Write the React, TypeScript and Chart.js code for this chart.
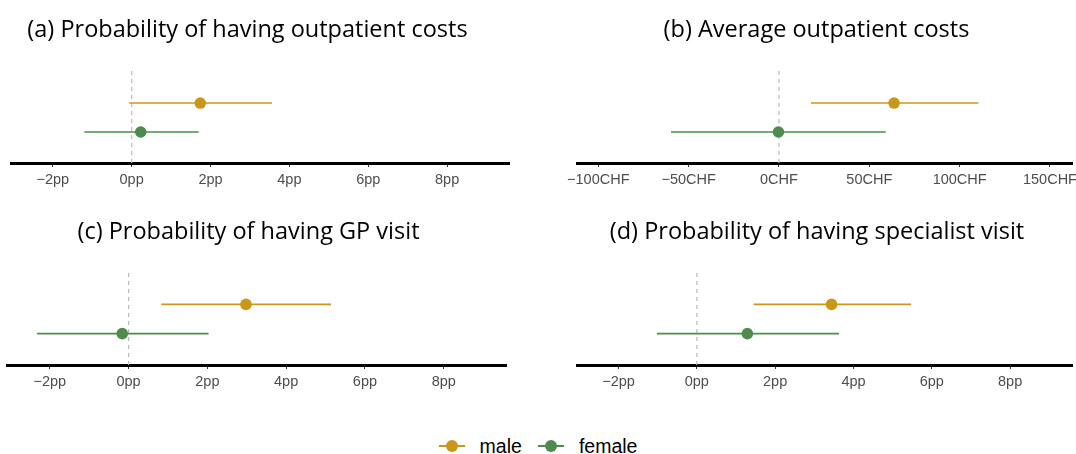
import React, { useEffect, useRef } from "react";
import { Chart, registerables } from "chart.js";

Chart.register(...registerables);

// ---- data ----
const groups = ["male", "female"];
const groupRows = [2, 1];
const groupColors = ["#C9971C", "#4F8A4E"];

const pctTicks = [-2, 0, 2, 4, 6, 8];
const chfTicks = [-100, -50, 0, 50, 100, 150];

const titleA = "(a) Probability of having outpatient costs";
const estA = [1.74, 0.23];
const lowA = [-0.06, -1.2];
const highA = [3.56, 1.7];

const titleB = "(b) Average outpatient costs";
const estB = [63.7, -0.3];
const lowB = [17.7, -59.8];
const highB = [110.4, 59.1];

const titleC = "(c) Probability of having GP visit";
const estC = [2.98, -0.16];
const lowC = [0.83, -2.32];
const highC = [5.14, 2.03];

const titleD = "(d) Probability of having specialist visit";
const estD = [3.44, 1.29];
const lowD = [1.45, -1.02];
const highD = [5.47, 3.63];

const Y_MIN = -0.07;
const Y_MAX = 3.14;

type PanelSpec = {
  title: string;
  est: number[];
  low: number[];
  high: number[];
  ticks: number[];
  unit: string;
  xMin: number;
  xMax: number;
  left: number;
  top: number;
  width: number;
  height: number;
  pad: { left: number; right: number; top: number; bottom: number };
  titleX: number;
  titleY: number;
};

const fmt = (v: number, unit: string) =>
  (v < 0 ? "\u2212" + Math.abs(v) : String(v)) + unit;

function Panel({ spec }: { spec: PanelSpec }) {
  const ref = useRef<HTMLCanvasElement | null>(null);
  useEffect(() => {
    if (!ref.current) return;
    const datasets: any[] = [
      {
        type: "line",
        data: [
          { x: 0, y: Y_MIN },
          { x: 0, y: Y_MAX },
        ],
        borderColor: "#bababa",
        borderDash: [4, 4],
        borderWidth: 1.2,
        pointRadius: 0,
        order: 3,
      },
    ];
    groups.forEach((g, i) => {
      datasets.push({
        type: "line",
        label: g + " CI",
        data: [
          { x: spec.low[i], y: groupRows[i] },
          { x: spec.high[i], y: groupRows[i] },
        ],
        borderColor: groupColors[i],
        borderWidth: 1.6,
        pointRadius: 0,
        order: 2,
      });
      datasets.push({
        type: "scatter",
        label: g,
        data: [{ x: spec.est[i], y: groupRows[i] }],
        backgroundColor: groupColors[i],
        borderWidth: 0,
        pointRadius: 5.8,
        order: 1,
      });
    });
    const chart = new Chart(ref.current, {
      type: "scatter",
      data: { datasets },
      options: {
        animation: false,
        responsive: false,
        devicePixelRatio: 1,
        layout: { padding: spec.pad },
        plugins: {
          legend: { display: false },
          tooltip: { enabled: false },
          title: { display: false },
        },
        scales: {
          x: {
            type: "linear",
            min: spec.xMin,
            max: spec.xMax,
            afterBuildTicks: (s: any) => {
              s.ticks = spec.ticks.map((v) => ({ value: v }));
            },
            ticks: {
              callback: (v: any) => fmt(Number(v), spec.unit),
              color: "#4d4d4d",
              font: { family: "'Liberation Sans', Arial, sans-serif", size: 14.5 },
              padding: 4,
              maxRotation: 0,
              autoSkip: false,
            },
            grid: {
              display: true,
              drawOnChartArea: false,
              drawTicks: true,
              tickLength: 4,
              color: "#333333",
              lineWidth: 1,
            },
            border: { display: true, color: "#000000", width: 3 },
          },
          y: {
            type: "linear",
            display: false,
            min: Y_MIN,
            max: Y_MAX,
          },
        },
      } as any,
    });
    return () => chart.destroy();
  }, [spec]);
  return (
    <>
      <canvas
        ref={ref}
        width={spec.width}
        height={spec.height}
        style={{
          position: "absolute",
          left: spec.left,
          top: spec.top,
          width: spec.width,
          height: spec.height,
        }}
      />
      <div
        style={{
          position: "absolute",
          left: spec.titleX,
          top: spec.titleY,
          transform: "translate(-50%, -50%)",
          whiteSpace: "nowrap",
          fontFamily: "'Open Sans', 'Noto Sans', sans-serif",
          fontSize: 23.5,
          lineHeight: "1",
          color: "#000",
        }}
      >
        {spec.title}
      </div>
    </>
  );
}

const panels: PanelSpec[] = [
  {
    title: titleA, est: estA, low: lowA, high: highA, ticks: pctTicks, unit: "pp",
    xMin: -3.06, xMax: 9.57,
    left: 0, top: 0, width: 538, height: 200,
    pad: { left: 11, right: 29, top: 70, bottom: 7.6 },
    titleX: 247.5, titleY: 28.5,
  },
  {
    title: titleB, est: estB, low: lowB, high: highB, ticks: chfTicks, unit: "CHF",
    xMin: -111.8, xMax: 162.2,
    left: 538, top: 0, width: 580, height: 200,
    pad: { left: 39, right: 46, top: 70, bottom: 7.6 },
    titleX: 816.5, titleY: 28.5,
  },
  {
    title: titleC, est: estC, low: lowC, high: highC, ticks: pctTicks, unit: "pp",
    xMin: -3.07, xMax: 9.58,
    left: 0, top: 200, width: 538, height: 200,
    pad: { left: 7.6, right: 32, top: 71, bottom: 5.6 },
    titleX: 248.5, titleY: 230.5,
  },
  {
    title: titleD, est: estD, low: lowD, high: highD, ticks: pctTicks, unit: "pp",
    xMin: -3.06, xMax: 9.58,
    left: 538, top: 200, width: 580, height: 200,
    pad: { left: 39, right: 46, top: 71, bottom: 5.6 },
    titleX: 817, titleY: 230.5,
  },
];

function LegendMarker({ color }: { color: string }) {
  return (
    <span style={{ position: "relative", display: "inline-block", width: 26, height: 14 }}>
      <span
        style={{
          position: "absolute", left: 0, top: 6, width: 26, height: 2, background: color,
        }}
      />
      <span
        style={{
          position: "absolute", left: 7, top: 1, width: 12, height: 12, borderRadius: "50%", background: color,
        }}
      />
    </span>
  );
}

export default function App() {
  return (
    <div
      style={{
        position: "fixed",
        left: 0,
        top: 0,
        width: 1076,
        height: 454,
        overflow: "hidden",
        background: "#fff",
      }}
    >
      {panels.map((p, i) => (
        <Panel key={i} spec={p} />
      ))}
      <div
        style={{
          position: "absolute",
          left: 0,
          width: 1076,
          top: 434,
          height: 24,
          display: "flex",
          justifyContent: "center",
          alignItems: "center",
          fontFamily: "'Liberation Sans', Arial, sans-serif",
          fontSize: 19.5,
          color: "#000",
        }}
      >
        {groups.map((g, i) => (
          <span key={g} style={{ display: "inline-flex", alignItems: "center", marginLeft: i === 0 ? 0 : 16 }}>
            <LegendMarker color={groupColors[i]} />
            <span style={{ marginLeft: 15 }}>{g}</span>
          </span>
        ))}
      </div>
    </div>
  );
}
